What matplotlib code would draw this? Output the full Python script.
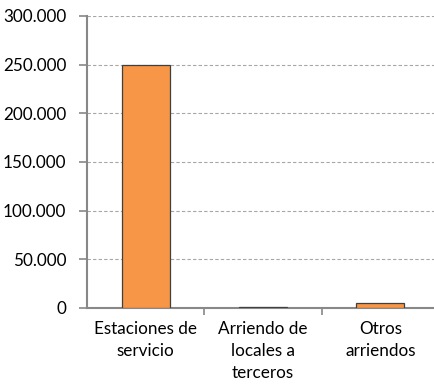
import matplotlib
matplotlib.use('Agg')
import matplotlib.pyplot as plt
from matplotlib.ticker import FuncFormatter, FixedLocator

categorias = ['Estaciones de\nservicio', 'Arriendo de\nlocales a\nterceros', 'Otros\narriendos']
valores = [249500, 1500, 5200]
ticks_y = [0, 50000, 100000, 150000, 200000, 250000, 300000]

plt.rcParams['font.family'] = ['Lato', 'DejaVu Sans']

fig = plt.figure(figsize=(4.35, 3.85), dpi=100)
ax = fig.add_axes([87/435, 77/385, 352/435, 292/385])

x = range(len(categorias))
ax.bar(x, valores, width=0.41, color='#F79646', edgecolor='#404040', linewidth=0.9, zorder=3)

ax.set_xlim(-0.5, len(categorias) - 0.5)
ax.set_ylim(0, 300000)
ax.set_yticks(ticks_y)
ax.yaxis.set_major_formatter(FuncFormatter(lambda v, p: f'{int(v):,}'.replace(',', '.')))
ax.grid(axis='y', color='#a6a6a6', linestyle=(0, (3, 2)), linewidth=0.8, zorder=0)

# category labels sit between the boundary ticks
ax.set_xticks(list(x))
ax.set_xticklabels(categorias, fontsize=12.3, linespacing=1.5)
ax.tick_params(axis='x', length=0, pad=9)
ax.xaxis.set_minor_locator(FixedLocator([0.5, 1.5]))
ax.tick_params(axis='x', which='minor', length=5, width=1.2, color='#888888', direction='out')
ax.tick_params(axis='y', length=6, width=1.2, color='#888888', labelsize=12.3, pad=9)

for side in ['top', 'right']:
    ax.spines[side].set_visible(False)
for side in ['left', 'bottom']:
    ax.spines[side].set_color('#888888')
    ax.spines[side].set_linewidth(1.5)

fig.savefig('out.png', dpi=100)
